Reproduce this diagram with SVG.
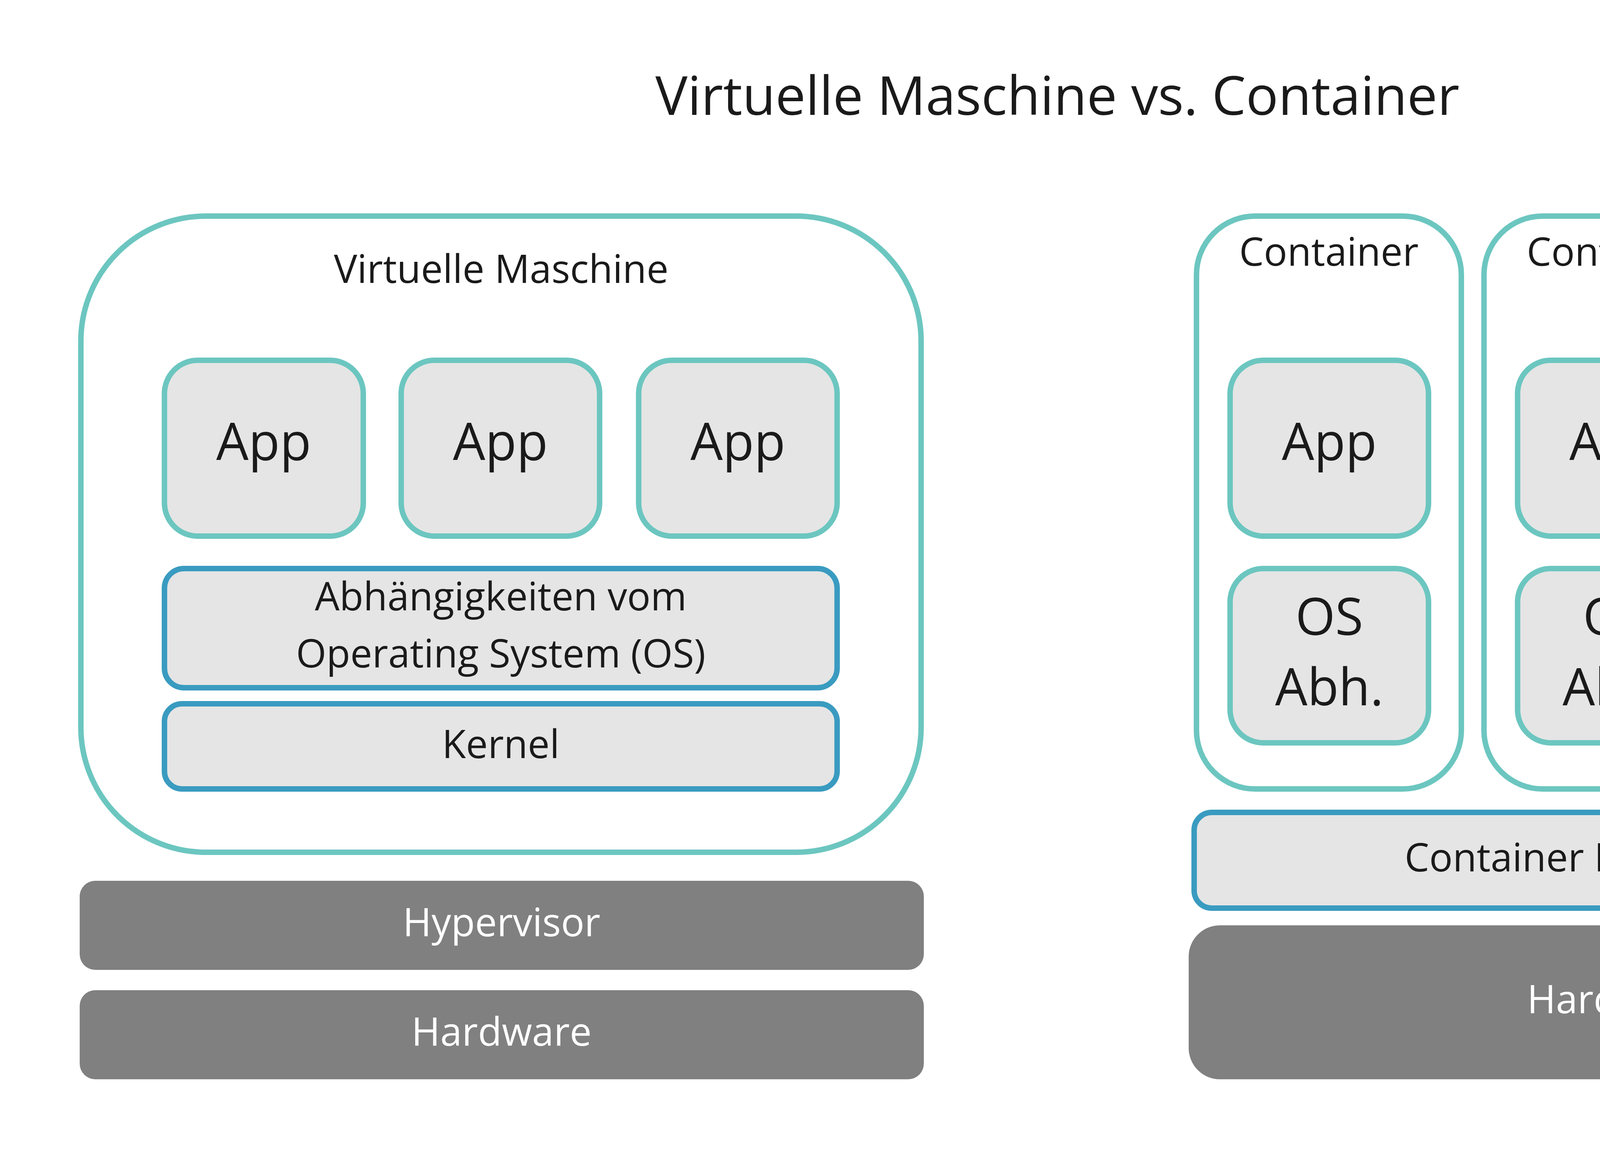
<svg xmlns="http://www.w3.org/2000/svg" width="5393" height="2966" viewBox="0 0 5393 2966">
<style>
text{font-family:"Open Sans","Noto Sans","Liberation Sans",sans-serif;fill:#1a1a1a;text-anchor:middle}
.t{fill:none;stroke:#6cc6c0;stroke-width:14}
.a{fill:#e5e5e5;stroke:#6cc6c0;stroke-width:14}
.b{fill:#e5e5e5;stroke:#3a9bc0;stroke-width:14}
.g{fill:#808080}
.w{fill:#ffffff}
.m{font-size:100px}
.l{font-size:131px}
</style>
<rect width="5393" height="2966" fill="#fff"/>
<text x="2707" y="294" font-size="138">Virtuelle Maschine vs. Container</text>
<g id="vm">
<rect class="t" x="207" y="553" width="2151" height="1628" rx="320"/>
<text class="m" x="1283" y="724">Virtuelle Maschine</text>
</g>
<g id="vm-app1"><rect class="a" x="421" y="922" width="509" height="450" rx="85"/><text class="l" x="675" y="1177">App</text></g>
<g id="vm-app2"><rect class="a" x="1027" y="922" width="508" height="450" rx="85"/><text class="l" x="1281" y="1177">App</text></g>
<g id="vm-app3"><rect class="a" x="1635" y="922" width="508" height="450" rx="85"/><text class="l" x="1889" y="1177">App</text></g>
<g id="vm-os"><rect class="b" x="421" y="1455" width="1722" height="305" rx="50"/><text class="m" x="1282" y="1562">Abhängigkeiten vom</text><text class="m" x="1282" y="1708">Operating System (OS)</text></g>
<g id="vm-kernel"><rect class="b" x="421" y="1801" width="1722" height="218" rx="45"/><text class="m" x="1282" y="1940">Kernel</text></g>
<g id="hypervisor"><rect class="g" x="204" y="2254" width="2161" height="228" rx="40"/><text class="m w" x="1284" y="2396">Hypervisor</text></g>
<g id="hw-left"><rect class="g" x="204" y="2534" width="2161" height="228" rx="40"/><text class="m w" x="1284" y="2676">Hardware</text></g>
<g id="c1"><rect class="t" x="3063" y="553" width="678" height="1466" rx="150"/><text class="m" x="3402" y="680">Container</text>
<rect class="a" x="3149" y="922" width="508" height="450" rx="85"/><text class="l" x="3403" y="1177">App</text>
<rect class="a" x="3149" y="1455" width="508" height="446" rx="85"/><text class="l" x="3403" y="1625">OS</text><text class="l" x="3403" y="1805">Abh.</text></g>
<g id="c2"><rect class="t" x="3799" y="553" width="678" height="1466" rx="150"/><text class="m" x="4138" y="680">Container</text>
<rect class="a" x="3885" y="922" width="508" height="450" rx="85"/><text class="l" x="4139" y="1177">App</text>
<rect class="a" x="3885" y="1455" width="508" height="446" rx="85"/><text class="l" x="4139" y="1625">OS</text><text class="l" x="4139" y="1805">Abh.</text></g>
<g id="c3"><rect class="t" x="4536" y="553" width="677" height="1466" rx="150"/><text class="m" x="4874" y="680">Container</text>
<rect class="a" x="4621" y="922" width="508" height="450" rx="85"/><text class="l" x="4875" y="1177">App</text>
<rect class="a" x="4621" y="1455" width="508" height="446" rx="85"/><text class="l" x="4875" y="1625">OS</text><text class="l" x="4875" y="1805">Abh.</text></g>
<g id="host"><rect class="b" x="3057" y="2079" width="2156" height="245" rx="45"/><text class="m" x="4140" y="2230">Container Host (Kernel)</text></g>
<g id="hw-right"><rect class="g" x="3043" y="2368" width="2177" height="394" rx="80"/><text class="m w" x="4140" y="2593">Hardware</text></g>
<g id="connectors"/>
</svg>
